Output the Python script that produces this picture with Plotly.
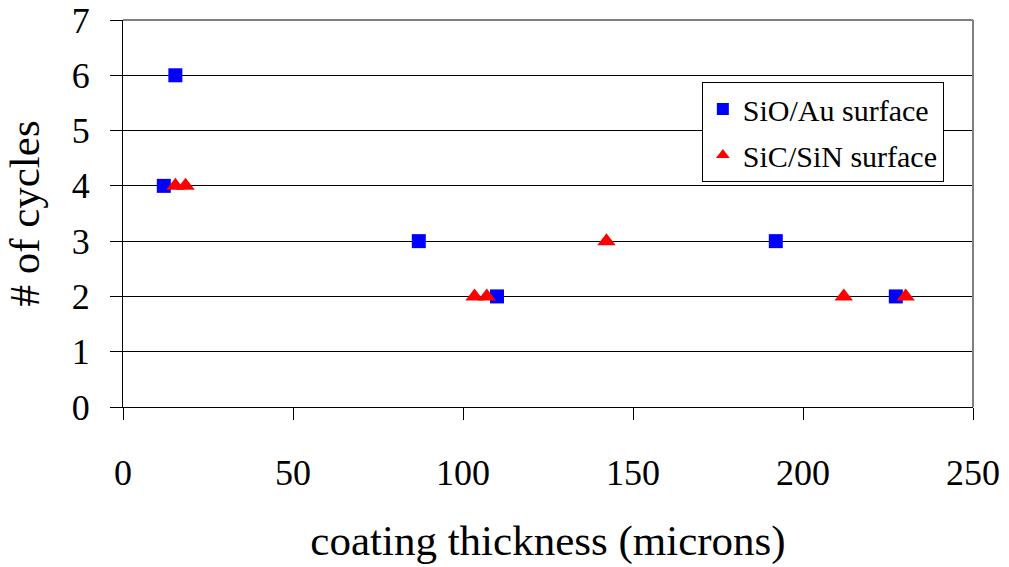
import plotly.graph_objects as go

# Coating thickness (microns) vs. number of cycles for two surface types
sio_thickness = [12, 15.4, 87, 110, 192, 227.3]
sio_cycles = [4, 6, 3, 2, 3, 2]

sic_thickness = [15.4, 18.4, 103.4, 107, 142.2, 212, 230.2]
sic_cycles = [4, 4, 2, 2, 3, 2, 2]

x_ticks = [0, 50, 100, 150, 200, 250]
y_ticks = [0, 1, 2, 3, 4, 5, 6, 7]

FONT = "Liberation Serif"

fig = go.Figure()
fig.add_trace(go.Scatter(
    x=sio_thickness, y=sio_cycles, mode="markers", name="SiO/Au surface",
    legendgroup="sio",
    marker=dict(symbol="square", size=14, color="#0000FF",
                line=dict(width=0)),
))
fig.add_trace(go.Scatter(
    x=sic_thickness, y=sic_cycles, mode="markers", name="SiC/SiN surface",
    legendgroup="sic",
    marker=dict(symbol="triangle-up", size=16, color="#FF0000",
                line=dict(width=0)),
))

fig.update_layout(
    width=1009, height=567,
    margin=dict(l=123, r=36, t=20, b=160, autoexpand=False),
    paper_bgcolor="white", plot_bgcolor="white",
    font=dict(family=FONT, color="black"),
    showlegend=True,
    legend=dict(
        x=0.681, y=0.840, xanchor="left", yanchor="top",
        bgcolor="white", bordercolor="black", borderwidth=1,
        font=dict(family=FONT, size=30, color="black"),
        itemsizing="constant", tracegroupgap=4, itemwidth=30,
    ),
    xaxis=dict(
        range=[0, 250], tickvals=x_ticks, ticktext=[str(v) for v in x_ticks],
        showgrid=False, zeroline=False, automargin=False,
        showline=True, linecolor="black", linewidth=1,
        ticks="outside", ticklen=12, tickcolor="black",
        ticklabelstandoff=22,
        tickfont=dict(family=FONT, size=36),
        title=dict(text="coating thickness (microns)",
                   font=dict(family=FONT, size=43), standoff=32),
    ),
    yaxis=dict(
        range=[0, 7], tickvals=y_ticks, ticktext=[str(v) for v in y_ticks],
        showgrid=True, gridcolor="black", gridwidth=1, zeroline=False,
        automargin=False,
        showline=True, linecolor="black", linewidth=1,
        ticks="outside", ticklen=12, tickcolor="black",
        ticklabelstandoff=13,
        tickfont=dict(family=FONT, size=36),
        title=dict(text="# of cycles",
                   font=dict(family=FONT, size=43), standoff=18),
    ),
)

# Gray frame on the top and right of the plot area
fig.add_shape(type="line", xref="paper", yref="paper", x0=0, x1=1, y0=1, y1=1,
              line=dict(color="#808080", width=2))
fig.add_shape(type="line", xref="paper", yref="paper", x0=1, x1=1, y0=0, y1=1,
              line=dict(color="#808080", width=2))

fig.write_html("out.html")
